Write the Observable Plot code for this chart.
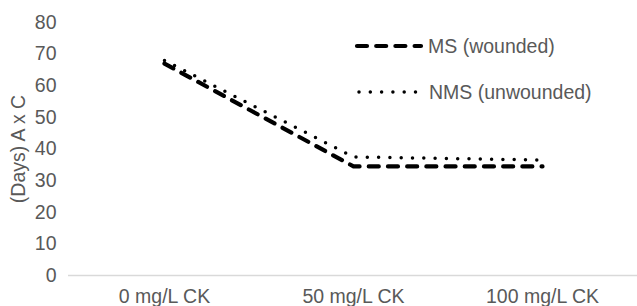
<!DOCTYPE html>
<html>
<head>
<meta charset="utf-8">
<script src="https://cdn.jsdelivr.net/npm/d3@7"></script>
<script src="https://cdn.jsdelivr.net/npm/@observablehq/plot@0.6"></script>
<style>
  html, body { margin: 0; padding: 0; background: #fff; overflow: hidden; }
  #wrap { position: relative; width: 637px; height: 306px; font-family: "Liberation Sans", Arial, sans-serif; }
  #legend { position: absolute; left: 0; top: 0; pointer-events: none; }
</style>
</head>
<body>
<div id="wrap"></div>
<script>
const categories = ["0 mg/L CK", "50 mg/L CK", "100 mg/L CK"];
const seriesNames = ["MS (wounded)", "NMS (unwounded)"];
const msValues = [67, 34.5, 34.5];
const nmsValues = [68, 37.5, 36.5];
const yTicks = [0, 10, 20, 30, 40, 50, 60, 70, 80];
const yLabel = "(Days) A x C";

const FONT = 19.5;
const TEXT = "#595959";

const styles = {
  "MS (wounded)": {strokeWidth: 4.2, dash: "10 9.2", cap: "round"},
  "NMS (unwounded)": {strokeWidth: 3.5, dash: "0 11.3", cap: "round"}
};

const ms = categories.map((c, i) => ({cat: c, value: msValues[i], series: seriesNames[0]}));
const nms = categories.map((c, i) => ({cat: c, value: nmsValues[i], series: seriesNames[1]}));

const chart = Plot.plot({
  width: 637,
  height: 306,
  marginLeft: 68,
  marginRight: 0,
  marginTop: 22,
  marginBottom: 31,
  style: {fontFamily: "'Liberation Sans', Arial, sans-serif", fontSize: FONT + "px", color: TEXT, background: "#fff", overflow: "visible"},
  x: {type: "point", domain: categories, padding: 0.5},
  y: {domain: [0, 80]},
  marks: [
    Plot.axisY({ticks: yTicks, tickSize: 0, tickPadding: 12, label: yLabel, labelAnchor: "center", labelArrow: "none", labelOffset: 57, fontSize: FONT, fill: TEXT}),
    Plot.axisX({tickSize: 0, tickPadding: 14, label: null, fontSize: FONT, fill: TEXT}),
    Plot.ruleY([0], {stroke: "#d9d9d9", strokeWidth: 1.3}),
    Plot.line(nms, {x: "cat", y: "value", stroke: "#000", strokeWidth: styles[seriesNames[1]].strokeWidth, strokeDasharray: styles[seriesNames[1]].dash, strokeLinecap: styles[seriesNames[1]].cap}),
    Plot.line(ms, {x: "cat", y: "value", stroke: "#000", strokeWidth: styles[seriesNames[0]].strokeWidth, strokeDasharray: styles[seriesNames[0]].dash, strokeLinecap: styles[seriesNames[0]].cap})
  ]
});

const wrap = document.getElementById("wrap");
wrap.appendChild(chart);

// legend overlay (layout only)
const legendLayout = [
  {x1: 357, x2: 421, y: 46, tx: 428},
  {x1: 359, x2: 416, y: 92, tx: 429}
];
const ns = "http://www.w3.org/2000/svg";
const leg = document.createElementNS(ns, "svg");
leg.setAttribute("id", "legend");
leg.setAttribute("width", 637);
leg.setAttribute("height", 306);
seriesNames.forEach((name, i) => {
  const st = styles[name], L = legendLayout[i];
  const line = document.createElementNS(ns, "line");
  line.setAttribute("x1", L.x1); line.setAttribute("x2", L.x2);
  line.setAttribute("y1", L.y); line.setAttribute("y2", L.y);
  line.setAttribute("stroke", "#000");
  line.setAttribute("stroke-width", st.strokeWidth);
  line.setAttribute("stroke-dasharray", st.dash);
  line.setAttribute("stroke-linecap", st.cap);
  leg.appendChild(line);
  const t = document.createElementNS(ns, "text");
  t.setAttribute("x", L.tx); t.setAttribute("y", L.y);
  t.setAttribute("dy", "0.35em");
  t.setAttribute("fill", TEXT);
  t.setAttribute("font-size", FONT);
  t.setAttribute("font-family", "'Liberation Sans', Arial, sans-serif");
  t.textContent = name;
  leg.appendChild(t);
});
wrap.appendChild(leg);
</script>
</body>
</html>
